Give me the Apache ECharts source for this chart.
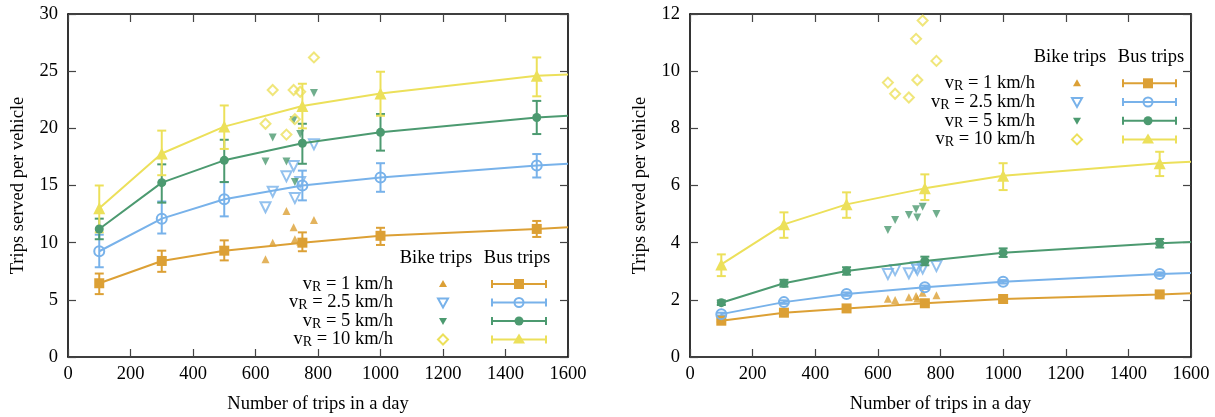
<!DOCTYPE html>
<html><head><meta charset="utf-8">
<script src="https://cdn.jsdelivr.net/npm/echarts@6/dist/echarts.min.js"></script>
<style>html,body{margin:0;padding:0;background:#fff}#c{width:1215px;height:417px}</style>
</head><body><div id="c"></div>
<script>
// ---------- DATA ----------
const busX = [100, 300, 500, 750, 1000, 1500];
const fitEndX = 1600;
const bikeX = [632, 655, 699, 722, 726, 743, 787];
const speedNames = ['1', '2.5', '5', '10'];
const xTickStep = 200;

// Left panel: bus trips (mean, low, high, fitted end value at 1600)
const L_bus1 = [6.45, 8.4, 9.3, 10.0, 10.6, 11.2];
const L_bus1Lo = [5.5, 7.45, 8.45, 9.25, 9.8, 10.5];
const L_bus1Hi = [7.3, 9.3, 10.2, 10.9, 11.3, 11.9];
const L_bus1End = 11.35;
const L_bus25 = [9.25, 12.1, 13.8, 15.0, 15.7, 16.75];
const L_bus25Lo = [7.85, 10.8, 12.3, 13.7, 14.45, 15.7];
const L_bus25Hi = [10.7, 13.6, 15.3, 16.3, 16.95, 17.75];
const L_bus25End = 16.9;
const L_bus5 = [11.2, 15.25, 17.2, 18.7, 19.65, 20.95];
const L_bus5Lo = [10.3, 13.5, 15.3, 16.9, 18.05, 19.5];
const L_bus5Hi = [12.1, 16.85, 19.0, 20.4, 21.25, 22.4];
const L_bus5End = 21.1;
const L_bus10 = [13.0, 17.8, 20.15, 21.95, 23.05, 24.6];
const L_bus10Lo = [10.9, 15.9, 18.2, 20.0, 21.1, 22.8];
const L_bus10Hi = [15.0, 19.8, 22.0, 23.9, 24.95, 26.2];
const L_bus10End = 24.7;
// Left panel: bike trips
const L_bike1 = [8.55, 10.0, 12.77, 11.34, 10.3, 10.1, 11.98];
const L_bike25 = [13.1, 14.46, 15.8, 16.7, 13.9, 15.3, 18.6];
const L_bike5 = [17.1, 19.2, 17.1, 20.7, 15.3, 19.5, 23.1];
const L_bike10 = [20.4, 23.35, 19.45, 23.35, 20.8, 23.2, 26.2];

// Right panel: bus trips
const R_bus1 = [1.27, 1.55, 1.70, 1.88, 2.03, 2.19];
const R_bus1Lo = [1.23, 1.51, 1.66, 1.83, 1.98, 2.14];
const R_bus1Hi = [1.31, 1.59, 1.74, 1.93, 2.08, 2.24];
const R_bus1End = 2.23;
const R_bus25 = [1.5, 1.92, 2.2, 2.44, 2.63, 2.9];
const R_bus25Lo = [1.45, 1.86, 2.14, 2.38, 2.57, 2.84];
const R_bus25Hi = [1.55, 1.98, 2.26, 2.5, 2.69, 2.96];
const R_bus25End = 2.94;
const R_bus5 = [1.9, 2.58, 3.01, 3.36, 3.65, 3.98];
const R_bus5Lo = [1.82, 2.46, 2.88, 3.21, 3.5, 3.83];
const R_bus5Hi = [1.98, 2.7, 3.14, 3.51, 3.8, 4.13];
const R_bus5End = 4.02;
const R_bus10 = [3.24, 4.64, 5.34, 5.9, 6.34, 6.78];
const R_bus10Lo = [2.83, 4.17, 4.87, 5.49, 5.84, 6.33];
const R_bus10Hi = [3.59, 5.06, 5.76, 6.39, 6.78, 7.18];
const R_bus10End = 6.83;
// Right panel: bike trips
const R_bike1 = [2.04, 1.99, 2.09, 2.13, 2.05, 2.25, 2.16];
const R_bike25 = [2.9, 3.04, 2.93, 3.14, 3.05, 3.1, 3.18];
const R_bike5 = [4.44, 4.79, 4.97, 5.17, 4.88, 5.26, 5.0];
const R_bike10 = [9.6, 9.21, 9.08, 11.13, 9.69, 11.77, 10.36];

// ---------- STYLE ----------
const F = '"Liberation Serif","DejaVu Serif",serif';
const FS = 18.5;
const C1 = '#dca035', C25 = '#78b2ea', C5 = '#4c9a70', C10 = '#ece05a';
const TRANSP = 'rgba(255,255,255,0)';

const chart = echarts.init(document.getElementById('c'), null, {renderer: 'canvas'});

function xAx(grid, pos, main) {
  return {
    type: 'value', gridIndex: grid, position: pos, min: 0, max: 1600, interval: xTickStep,
    axisLine: {show: true, onZero: false, lineStyle: {color: '#000', width: 1.6}},
    axisTick: {show: true, inside: true, length: 8, lineStyle: {color: '#444', width: 1.2}},
    axisLabel: {show: main, fontFamily: F, fontSize: FS, color: '#000', margin: 8, formatter: v => String(v)},
    splitLine: {show: false},
    name: main ? 'Number of trips in a day' : '', nameLocation: 'middle', nameGap: 38,
    nameTextStyle: {fontFamily: F, fontSize: FS, color: '#000'}
  };
}
function yAx(grid, pos, main, max, step) {
  return {
    type: 'value', gridIndex: grid, position: pos, min: 0, max: max, interval: step,
    axisLine: {show: true, onZero: false, lineStyle: {color: '#000', width: 1.6}},
    axisTick: {show: true, inside: true, length: 8, lineStyle: {color: '#444', width: 1.2}},
    axisLabel: {show: main, fontFamily: F, fontSize: FS, color: '#000', margin: 10, formatter: v => String(v)},
    splitLine: {show: false},
    name: main ? 'Trips served per vehicle' : '', nameLocation: 'middle', nameGap: 40,
    nameTextStyle: {fontFamily: F, fontSize: FS, color: '#000'}
  };
}

function errRender(params, api) {
  const x = api.value(0), lo = api.value(1), hi = api.value(2);
  const p1 = api.coord([x, lo]), p2 = api.coord([x, hi]);
  const w = 4.5;
  const st = {stroke: api.visual('color'), lineWidth: 2, fill: null};
  return {type: 'group', children: [
    {type: 'line', shape: {x1: p1[0], y1: p1[1], x2: p2[0], y2: p2[1]}, style: st},
    {type: 'line', shape: {x1: p1[0] - w, y1: p1[1], x2: p1[0] + w, y2: p1[1]}, style: st},
    {type: 'line', shape: {x1: p2[0] - w, y1: p2[1], x2: p2[0] + w, y2: p2[1]}, style: st}
  ]};
}

const busSym = [
  {symbol: 'rect', size: 10, item: c => ({color: c})},
  {symbol: 'circle', size: 10, item: c => ({color: TRANSP, borderColor: c, borderWidth: 2})},
  {symbol: 'circle', size: 9, item: c => ({color: c})},
  {symbol: 'triangle', size: 12, item: c => ({color: c})}
];
const bikeSym = [
  {symbol: 'triangle', size: 8, rot: 0, item: c => ({color: c})},
  {symbol: 'triangle', size: 10, rot: 180, item: c => ({color: TRANSP, borderColor: c, borderWidth: 2})},
  {symbol: 'triangle', size: 8, rot: 180, item: c => ({color: c})},
  {symbol: 'diamond', size: 10, rot: 0, item: c => ({color: TRANSP, borderColor: c, borderWidth: 2})}
];
const colors = [C1, C25, C5, C10];

function panelSeries(xi, yi, bus, lo, hi, ends, bikes) {
  const out = [];
  for (let k = 0; k < 4; k++) {
    const c = colors[k];
    out.push({
      type: 'scatter', xAxisIndex: xi, yAxisIndex: yi, z: 2, silent: true,
      symbol: bikeSym[k].symbol, symbolSize: bikeSym[k].size, symbolRotate: bikeSym[k].rot,
      itemStyle: bikeSym[k].item(c),
      data: bikeX.map((x, i) => [x, bikes[k][i]])
    });
  }
  for (let k = 0; k < 4; k++) {
    const c = colors[k];
    out.push({
      type: 'custom', xAxisIndex: xi, yAxisIndex: yi, z: 3, silent: true,
      itemStyle: {color: c}, renderItem: errRender,
      encode: {x: [0], y: [1, 2]},
      data: busX.map((x, i) => [x, lo[k][i], hi[k][i]])
    });
  }
  for (let k = 0; k < 4; k++) {
    const c = colors[k];
    const d = busX.map((x, i) => [x, bus[k][i]]);
    d.push({value: [fitEndX, ends[k]], symbol: 'none'});
    out.push({
      type: 'line', xAxisIndex: xi, yAxisIndex: yi, z: 4, silent: true, animation: false,
      symbol: busSym[k].symbol, symbolSize: busSym[k].size, showAllSymbol: true,
      itemStyle: busSym[k].item(c),
      lineStyle: {color: c, width: 2},
      data: d
    });
  }
  return out;
}

const series = [].concat(
  panelSeries(0, 0,
    [L_bus1, L_bus25, L_bus5, L_bus10],
    [L_bus1Lo, L_bus25Lo, L_bus5Lo, L_bus10Lo],
    [L_bus1Hi, L_bus25Hi, L_bus5Hi, L_bus10Hi],
    [L_bus1End, L_bus25End, L_bus5End, L_bus10End],
    [L_bike1, L_bike25, L_bike5, L_bike10]),
  panelSeries(2, 2,
    [R_bus1, R_bus25, R_bus5, R_bus10],
    [R_bus1Lo, R_bus25Lo, R_bus5Lo, R_bus10Lo],
    [R_bus1Hi, R_bus25Hi, R_bus5Hi, R_bus10Hi],
    [R_bus1End, R_bus25End, R_bus5End, R_bus10End],
    [R_bike1, R_bike25, R_bike5, R_bike10])
);

// ---------- LEGEND (drawn as graphic table) ----------
function legendBlock(g) {
  const els = [];
  const font = FS + 'px ' + F;
  els.push({type: 'text', x: g.bikeHX, y: g.headY, z: 10,
    style: {text: 'Bike trips', font: font, fill: '#000', align: 'center', verticalAlign: 'middle'}});
  els.push({type: 'text', x: g.busHX, y: g.headY, z: 10,
    style: {text: 'Bus trips', font: font, fill: '#000', align: 'center', verticalAlign: 'middle'}});
  for (let k = 0; k < 4; k++) {
    const y = g.rowY0 + g.rowDY * k;
    const c = colors[k];
    els.push({type: 'text', x: g.labelR, y: y, z: 10,
      style: {
        text: '{v|v}{s|R}{t| = ' + speedNames[k] + ' km/h}',
        align: 'right', verticalAlign: 'middle',
        rich: {
          v: {fontFamily: F, fontSize: FS, fill: '#000', lineHeight: 20},
          s: {fontFamily: F, fontSize: 14, fill: '#000', lineHeight: 8, verticalAlign: 'bottom'},
          t: {fontFamily: F, fontSize: FS, fill: '#000', lineHeight: 20}
        }
      }});
    // bike symbol
    const bx = g.bikeX;
    let poly, st;
    if (k === 0) { poly = [[bx, y - 4], [bx + 4, y + 3], [bx - 4, y + 3]]; st = {fill: c}; }
    if (k === 1) { poly = [[bx - 5, y - 4], [bx + 5, y - 4], [bx, y + 5]]; st = {fill: null, stroke: c, lineWidth: 2}; }
    if (k === 2) { poly = [[bx - 4, y - 3], [bx + 4, y - 3], [bx, y + 4]]; st = {fill: c}; }
    if (k === 3) { poly = [[bx, y - 5], [bx + 5, y], [bx, y + 5], [bx - 5, y]]; st = {fill: null, stroke: c, lineWidth: 2}; }
    els.push({type: 'polygon', z: 10, shape: {points: poly}, style: st});
    // bus sample: horizontal error bar + marker
    const ls = {stroke: c, lineWidth: 2};
    els.push({type: 'line', z: 10, shape: {x1: g.busX1, y1: y, x2: g.busX2, y2: y}, style: ls});
    els.push({type: 'line', z: 10, shape: {x1: g.busX1, y1: y - 4, x2: g.busX1, y2: y + 4}, style: ls});
    els.push({type: 'line', z: 10, shape: {x1: g.busX2, y1: y - 4, x2: g.busX2, y2: y + 4}, style: ls});
    const mx = g.busM;
    if (k === 0) els.push({type: 'rect', z: 11, shape: {x: mx - 5, y: y - 5, width: 10, height: 10}, style: {fill: c}});
    if (k === 1) els.push({type: 'circle', z: 11, shape: {cx: mx, cy: y, r: 4.5}, style: {fill: null, stroke: c, lineWidth: 2}});
    if (k === 2) els.push({type: 'circle', z: 11, shape: {cx: mx, cy: y, r: 4.5}, style: {fill: c}});
    if (k === 3) els.push({type: 'polygon', z: 11, shape: {points: [[mx, y - 6], [mx + 6, y + 4], [mx - 6, y + 4]]}, style: {fill: c}});
  }
  return els;
}

const graphics = [].concat(
  legendBlock({bikeHX: 436, busHX: 517, headY: 258, labelR: 393, rowY0: 284, rowDY: 18.5, bikeX: 443, busX1: 492, busX2: 546, busM: 519}),
  legendBlock({bikeHX: 1070, busHX: 1151, headY: 57, labelR: 1035, rowY0: 83.3, rowDY: 18.7, bikeX: 1077, busX1: 1123, busX2: 1176, busM: 1148})
);

chart.setOption({
  animation: false,
  backgroundColor: '#fff',
  grid: [
    {left: 68, right: 647, top: 14, bottom: 60, containLabel: false, outerBoundsMode: 'none'},
    {left: 690, right: 24, top: 14, bottom: 60, containLabel: false, outerBoundsMode: 'none'}
  ],
  xAxis: [xAx(0, 'bottom', true), xAx(0, 'top', false), xAx(1, 'bottom', true), xAx(1, 'top', false)],
  yAxis: [yAx(0, 'left', true, 30, 5), yAx(0, 'right', false, 30, 5), yAx(1, 'left', true, 12, 2), yAx(1, 'right', false, 12, 2)],
  series: series,
  graphic: graphics
});
</script>
</body></html>
